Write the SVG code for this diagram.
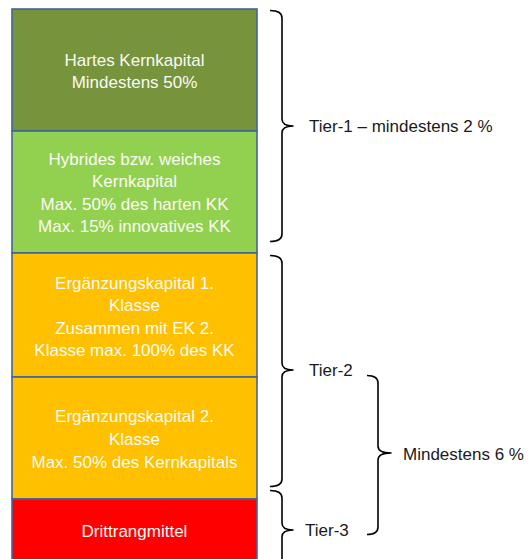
<svg xmlns="http://www.w3.org/2000/svg" width="531" height="559" viewBox="0 0 531 559">
  <style>
    .box { stroke: #41659A; stroke-width: 1.6; }
    .in { font-family: "Liberation Sans", Arial, sans-serif; font-size: 17px; fill: #fbfbf4; text-anchor: middle; }
    .lbl { font-family: "Liberation Sans", Arial, sans-serif; font-size: 17px; fill: #1a1a1a; }
    .brace { fill: none; stroke: #000000; stroke-width: 1.6; stroke-linejoin: round; }
  </style>
  <rect width="531" height="559" fill="#ffffff"/>

  <g id="hartes-kernkapital">
    <rect class="box" x="12" y="9" width="245" height="122" fill="#77933C"/>
    <text class="in" x="134.5" y="66">Hartes Kernkapital</text>
    <text class="in" x="134.5" y="88">Mindestens 50%</text>
  </g>

  <g id="hybrides-kernkapital">
    <rect class="box" x="12" y="131" width="245" height="122" fill="#92D050"/>
    <text class="in" x="134.5" y="165">Hybrides bzw. weiches</text>
    <text class="in" x="134.5" y="187">Kernkapital</text>
    <text class="in" x="134.5" y="210">Max. 50% des harten KK</text>
    <text class="in" x="134.5" y="232">Max. 15% innovatives KK</text>
  </g>

  <g id="ergaenzungskapital-1">
    <rect class="box" x="12" y="253" width="245" height="124" fill="#FFC000"/>
    <text class="in" x="134.5" y="289">Ergänzungskapital 1.</text>
    <text class="in" x="134.5" y="311">Klasse</text>
    <text class="in" x="134.5" y="334">Zusammen mit EK 2.</text>
    <text class="in" x="134.5" y="356">Klasse max. 100% des KK</text>
  </g>

  <g id="ergaenzungskapital-2">
    <rect class="box" x="12" y="377" width="245" height="122" fill="#FFC000"/>
    <text class="in" x="134.5" y="422">Ergänzungskapital 2.</text>
    <text class="in" x="134.5" y="445">Klasse</text>
    <text class="in" x="134.5" y="468">Max. 50% des Kernkapitals</text>
  </g>

  <g id="drittrangmittel">
    <rect class="box" x="12" y="499" width="245" height="70" fill="#FF0000"/>
    <text class="in" x="134.5" y="537">Drittrangmittel</text>
  </g>

  <g id="connectors">
    <!-- Tier-1 brace -->
    <path class="brace" d="M270,10.5 Q282,10.5 282,18 L282,119 Q282,126 293,126 Q282,126 282,133 L282,234 Q282,241.5 270,241.5"/>
    <!-- Tier-2 brace -->
    <path class="brace" d="M270,255.5 Q282,255.5 282,263 L282,363 Q282,370 293,370 Q282,370 282,377 L282,479 Q282,486.5 270,486.5"/>
    <!-- Tier-3 brace -->
    <path class="brace" d="M270,490.5 Q282,490.5 282,498 L282,523 Q282,530 293,530 Q282,530 282,537 L282,562"/>
    <!-- combined Tier-2 + Tier-3 brace -->
    <path class="brace" d="M367,375.5 Q378,375.5 378,383 L378,446 Q378,453 391,453 Q378,453 378,460 L378,527 Q378,534.5 367,534.5"/>
  </g>

  <g id="labels">
    <text class="lbl" x="309" y="132">Tier-1 – mindestens 2 %</text>
    <text class="lbl" x="309" y="376">Tier-2</text>
    <text class="lbl" x="305" y="536">Tier-3</text>
    <text class="lbl" x="403" y="460">Mindestens 6 %</text>
  </g>
</svg>
